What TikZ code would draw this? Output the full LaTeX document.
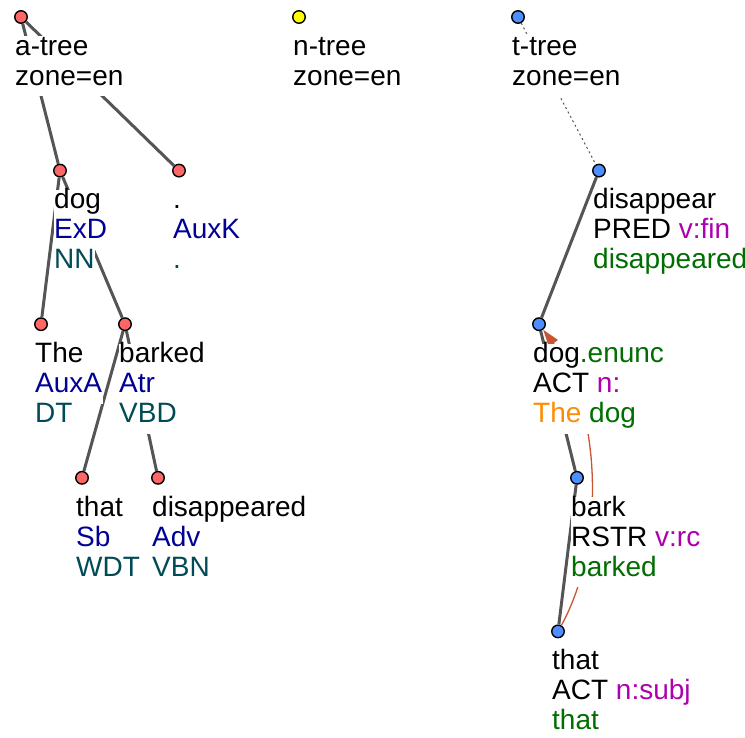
\documentclass[tikz,border=0pt]{standalone}
\usepackage{fontspec}
\setmainfont{Liberation Sans}
\usetikzlibrary{arrows.meta}
\definecolor{ared}{RGB}{255,102,102}
\definecolor{nyel}{RGB}{255,255,0}
\definecolor{tblue}{RGB}{77,143,255}
\definecolor{edgegray}{RGB}{85,85,85}
\definecolor{afun}{RGB}{0,0,150}
\definecolor{tagc}{RGB}{0,75,85}
\definecolor{tmag}{RGB}{175,0,175}
\definecolor{tgreen}{RGB}{0,110,0}
\definecolor{torange}{RGB}{255,140,0}
\definecolor{corefc}{RGB}{200,85,50}
\begin{document}
\begin{tikzpicture}[x=1pt,y=-1pt,
  lbl/.style={anchor=base west, inner xsep=0.5pt, inner ysep=0pt, fill=white,
    text height=19pt, text depth=11pt, font=\fontsize{28}{30}\selectfont},
  treeedge/.style={draw=edgegray, line width=3pt},
  dotedge/.style={draw=edgegray, line width=1pt, dash pattern=on 2pt off 3pt},
  coref/.style={draw=corefc, line width=1.3pt, -{Triangle[length=17pt,width=11pt]}},
  nd/.style={circle, draw=black, line width=1.4pt, minimum size=12.5pt, inner sep=0pt},
  acirc/.style={nd, fill=ared},
  ncirc/.style={nd, fill=nyel},
  tcirc/.style={nd, fill=tblue}]
\path[use as bounding box] (0,0) rectangle (745,738);
\clip (0,0) rectangle (745,738);
% circles
\node[acirc] (aroot) at (21,17) {};
\node[acirc] (adog) at (60,170.6) {};
\node[acirc] (aper) at (179,170.6) {};
\node[acirc] (athe) at (41,324.2) {};
\node[acirc] (abarked) at (125,324.2) {};
\node[acirc] (athat) at (82,477.8) {};
\node[acirc] (adisap) at (158,477.8) {};
\node[ncirc] (nroot) at (299,17) {};
\node[tcirc] (troot) at (518,17) {};
\node[tcirc] (tdisap) at (599,170.6) {};
\node[tcirc] (tdog) at (539,324.2) {};
\node[tcirc] (tbark) at (577,477.8) {};
\node[tcirc] (tthat) at (558,631.4) {};
% edges
\draw[treeedge] (aroot) -- (adog);
\draw[treeedge] (aroot) -- (aper);
\draw[treeedge] (adog) -- (athe);
\draw[treeedge] (adog) -- (abarked);
\draw[treeedge] (abarked) -- (athat);
\draw[treeedge] (abarked) -- (adisap);
\draw[dotedge] (troot) -- (tdisap);
\draw[treeedge] (tdisap) -- (tdog);
\draw[treeedge] (tdog) -- (tbark);
\draw[treeedge] (tbark) -- (tthat);
\draw[coref] (tthat) .. controls (606,545) and (602,408) .. (tdog);
% labels a-tree
\node[lbl] (aroot1) at (14.5,55.5) {a-tree};
\node[lbl] (aroot2) at (14.5,85.5) {zone=en};
\node[lbl] (adog1) at (53.5,209) {dog};
\node[lbl,text=afun] (adog2) at (53.5,239) {ExD};
\node[lbl,text=tagc] (adog3) at (53.5,269) {NN};
\node[lbl] (aper1) at (172.5,209) {.};
\node[lbl,text=afun] (aper2) at (172.5,239) {AuxK};
\node[lbl,text=tagc] (aper3) at (172.5,269) {.};
\node[lbl] (athe1) at (34.5,362.7) {The};
\node[lbl,text=afun] (athe2) at (34.5,392.7) {AuxA};
\node[lbl,text=tagc] (athe3) at (34.5,422.7) {DT};
\node[lbl] (abarked1) at (118.5,362.7) {barked};
\node[lbl,text=afun] (abarked2) at (118.5,392.7) {Atr};
\node[lbl,text=tagc] (abarked3) at (118.5,422.7) {VBD};
\node[lbl] (athat1) at (75.5,516.3) {that};
\node[lbl,text=afun] (athat2) at (75.5,546.3) {Sb};
\node[lbl,text=tagc] (athat3) at (75.5,576.3) {WDT};
\node[lbl] (adisap1) at (151.5,516.3) {disappeared};
\node[lbl,text=afun] (adisap2) at (151.5,546.3) {Adv};
\node[lbl,text=tagc] (adisap3) at (151.5,576.3) {VBN};
% n-tree
\node[lbl] (nroot1) at (292.5,55.5) {n-tree};
\node[lbl] (nroot2) at (292.5,85.5) {zone=en};
% t-tree
\node[lbl] (troot1) at (511.5,55.5) {t-tree};
\node[lbl] (troot2) at (511.5,85.5) {zone=en};
\node[lbl] (tdisap1) at (592.5,209) {disappear};
\node[lbl] (tdisap2) at (592.5,239) {PRED \textcolor{tmag}{v:fin}};
\node[lbl,text=tgreen] (tdisap3) at (592.5,269) {disappeared};
\node[lbl] (tdog1) at (532.5,362.7) {dog\textcolor{tgreen}{.enunc}};
\node[lbl] (tdog2) at (532.5,392.7) {ACT \textcolor{tmag}{n:}};
\node[lbl] (tdog3) at (532.5,422.7) {\textcolor{torange}{The} \textcolor{tgreen}{dog}};
\node[lbl] (tbark1) at (570.5,516.3) {bark};
\node[lbl] (tbark2) at (570.5,546.3) {RSTR \textcolor{tmag}{v:rc}};
\node[lbl,text=tgreen] (tbark3) at (570.5,576.3) {barked};
\node[lbl] (tthat1) at (551.5,669.9) {that};
\node[lbl] (tthat2) at (551.5,699.9) {ACT \textcolor{tmag}{n:subj}};
\node[lbl,text=tgreen] (tthat3) at (551.5,729.9) {that};
\end{tikzpicture}
\end{document}
